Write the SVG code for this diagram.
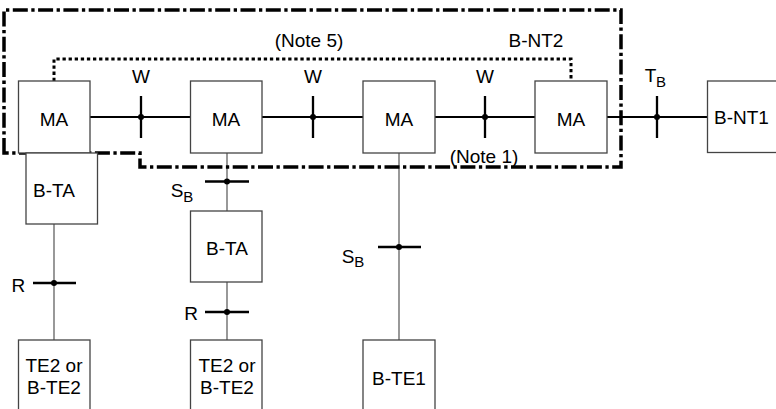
<svg xmlns="http://www.w3.org/2000/svg" width="776" height="409" viewBox="0 0 776 409">
<style>
.box{fill:#fff;stroke:#444;stroke-width:1.3}
.t{font-family:"Liberation Sans",Arial,sans-serif;font-size:19px;fill:#000;text-anchor:middle}
.s{font-family:"Liberation Sans",Arial,sans-serif;font-size:15px;fill:#000}
.bus{stroke:#000;stroke-width:2;fill:none}
.tick{stroke:#000;stroke-width:2.3;fill:none}
.wire{stroke:#6e6e6e;stroke-width:1.4;fill:none}
.dot{fill:#000}
.dashdot{fill:none;stroke:#000;stroke-width:3.5;stroke-dasharray:15 3.5 3.3 3.5}
.dotted{fill:none;stroke:#000;stroke-width:3;stroke-dasharray:3.3 2.8}
</style>
<rect width="776" height="409" fill="#fff"/>
<g id="connectors">
<path class="bus" d="M90 117H190M262 117H363M435 117H535M607 117H707"/>
<path class="wire" d="M54 224V340M227 153V211M227 282V340M399 153V340"/>
<path class="tick" d="M141 96V138M313 96V138M485 96V138M657 96V138"/>
<path class="tick" d="M205 181.5H249M378 247H421M33 283H76M205 312H249"/>
<circle class="dot" cx="141" cy="117" r="3"/>
<circle class="dot" cx="313" cy="117" r="3"/>
<circle class="dot" cx="485" cy="117" r="3"/>
<circle class="dot" cx="657" cy="117" r="3"/>
<circle class="dot" cx="227" cy="181.5" r="3"/>
<circle class="dot" cx="399" cy="247" r="3"/>
<circle class="dot" cx="54" cy="283" r="3"/>
<circle class="dot" cx="227" cy="312" r="3"/>
</g>
<g id="boundaries">
<path class="dashdot" d="M4 153V10H621V167H140V153H4Z"/>
<path class="dotted" d="M54 81V59H571V81"/>
</g>
<g id="ma1"><rect class="box" x="18.5" y="81" width="71.5" height="72"/><text class="t" x="54" y="126">MA</text></g>
<g id="ma2"><rect class="box" x="190.5" y="81" width="71.5" height="72"/><text class="t" x="226" y="126">MA</text></g>
<g id="ma3"><rect class="box" x="363" y="81" width="72" height="72"/><text class="t" x="399" y="126">MA</text></g>
<g id="ma4"><rect class="box" x="535" y="81" width="72" height="72"/><text class="t" x="571" y="126">MA</text></g>
<g id="bnt1"><rect class="box" x="707.5" y="81" width="72" height="71.5"/><text class="t" x="714" y="123.5" style="text-anchor:start">B-NT1</text></g>
<g id="bta1"><rect class="box" x="26" y="153" width="71.5" height="71"/><text class="t" x="54" y="197">B-TA</text></g>
<g id="bta2"><rect class="box" x="190.5" y="211" width="71.5" height="71"/><text class="t" x="227" y="255">B-TA</text></g>
<g id="te2a"><rect class="box" x="18.5" y="340" width="71.5" height="80"/><text class="t" x="54" y="371.5">TE2 or</text><text class="t" x="54" y="394">B-TE2</text></g>
<g id="te2b"><rect class="box" x="190.5" y="340" width="71.5" height="80"/><text class="t" x="227" y="371.5">TE2 or</text><text class="t" x="227" y="394">B-TE2</text></g>
<g id="bte1"><rect class="box" x="363" y="340" width="72" height="80"/><text class="t" x="399" y="385">B-TE1</text></g>
<g id="labels">
<text class="t" x="309" y="46.7">(Note 5)</text>
<text class="t" x="536" y="46.7">B-NT2</text>
<text class="t" x="484" y="162.7">(Note 1)</text>
<text class="t" x="141" y="83.3">W</text>
<text class="t" x="313" y="83.3">W</text>
<text class="t" x="485" y="83.3">W</text>
<text class="t" x="650.5" y="82" >T</text><text class="s" x="656" y="87.3">B</text>
<text class="t" x="177" y="197.3">S</text><text class="s" x="183.3" y="201.7">B</text>
<text class="t" x="348" y="263.3">S</text><text class="s" x="354.3" y="267.3">B</text>
<text class="t" x="18.3" y="291.7">R</text>
<text class="t" x="191" y="320">R</text>
</g>
</svg>
